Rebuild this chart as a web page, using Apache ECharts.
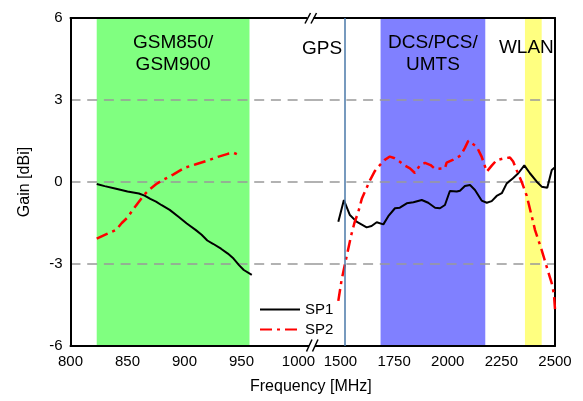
<!DOCTYPE html>
<html><head><meta charset="utf-8">
<script src="https://cdn.jsdelivr.net/npm/echarts@6/dist/echarts.min.js"></script>
<style>html,body{margin:0;padding:0;background:#fff}#c{width:583px;height:401px}</style>
</head><body><div id="c"></div>
<script>
// Tick labels
const lowTicks = [800, 850, 900, 950, 1000];
const highTicks = [1500, 1750, 2000, 2250, 2500];

// Frequency bands (MHz) and labels
const gsmBand = [823, 957];
const gsmLabel = 'GSM850/\nGSM900';
const dcsBand = [1687, 2175];
const dcsLabel = 'DCS/PCS/\nUMTS';
const wlanBand = [2360, 2438];
const wlanLabel = 'WLAN';
const gpsFreq = 1522;
const gpsLabel = 'GPS';

// SP1 low band
const sp1LowFreq = [823, 830, 840, 850, 860, 865, 870, 875, 880, 887, 895, 902, 910, 915, 920, 925, 932, 938, 943, 948, 952, 959];
const sp1LowGain = [-0.07, -0.15, -0.25, -0.35, -0.42, -0.5, -0.62, -0.72, -0.85, -1.02, -1.28, -1.52, -1.76, -1.93, -2.14, -2.26, -2.44, -2.62, -2.8, -3.05, -3.22, -3.4];

// SP2 low band
const sp2LowFreq = [823, 832, 840, 845, 850, 855, 860, 865, 870, 875, 880, 890, 900, 910, 920, 930, 938, 943, 948];
const sp2LowGain = [-2.07, -1.9, -1.75, -1.5, -1.3, -1.0, -0.72, -0.45, -0.25, -0.08, 0.05, 0.27, 0.52, 0.65, 0.78, 0.93, 1.03, 1.07, 0.98];

// SP1 high band
const sp1HighFreq = [1490, 1516, 1544, 1575, 1622, 1645, 1669, 1700, 1723, 1754, 1777, 1809, 1840, 1879, 1909, 1941, 1964, 1987, 2010, 2042, 2057, 2080, 2104, 2127, 2158, 2182, 2205, 2228, 2252, 2275, 2303, 2329, 2357, 2383, 2415, 2438, 2464, 2485, 2500];
const sp1HighGain = [-1.45, -0.66, -1.21, -1.45, -1.66, -1.61, -1.47, -1.55, -1.25, -0.96, -0.94, -0.78, -0.74, -0.66, -0.76, -0.94, -0.96, -0.84, -0.33, -0.35, -0.32, -0.15, -0.11, -0.29, -0.68, -0.76, -0.7, -0.51, -0.41, -0.05, 0.13, 0.32, 0.61, 0.32, 0.01, -0.17, -0.21, 0.44, 0.54];

// SP2 high band
const sp2HighFreq = [1490, 1505, 1521, 1535, 1550, 1565, 1583, 1600, 1620, 1638, 1660, 1684, 1705, 1730, 1750, 1777, 1800, 1824, 1847, 1871, 1894, 1920, 1941, 1987, 1995, 2026, 2060, 2080, 2096, 2135, 2158, 2182, 2205, 2228, 2260, 2290, 2305, 2321, 2345, 2368, 2390, 2407, 2438, 2461, 2485, 2495, 2500];
const sp2HighGain = [-4.35, -3.6, -3.0, -2.5, -1.95, -1.5, -1.1, -0.6, -0.25, 0.07, 0.4, 0.62, 0.8, 0.93, 0.88, 0.74, 0.6, 0.5, 0.33, 0.62, 0.7, 0.62, 0.48, 0.5, 0.71, 0.82, 0.97, 1.25, 1.51, 1.29, 0.93, 0.38, 0.6, 0.8, 0.86, 0.9, 0.75, 0.44, 0.0, -0.5, -1.2, -1.76, -2.49, -3.1, -3.71, -4.1, -4.65];

const zip = (xs, ys) => xs.map((x, i) => [x, ys[i]]);
const FONT = "'Liberation Sans', Arial, sans-serif";
const black = '#000';
const plain = v => String(v);
const frameLine = { show: true, onZero: false, lineStyle: { color: black, width: 2 } };
const gridDash = { show: true, showMinLine: false, showMaxLine: false, lineStyle: { color: '#999', width: 1.5, type: [10, 6.7] } };
const sp1Style = { color: black, width: 2 };
const sp2Style = { color: '#ff0000', width: 2.5, type: [12, 5, 3, 5] };
const bandLabel = { show: true, position: 'insideTop', distance: 14, fontSize: 19, lineHeight: 22, color: black, fontFamily: FONT };

const lowMax = 1012.7, highMin = 1372, highMax = 2500;

const chart = echarts.init(document.getElementById('c'), null, { renderer: 'canvas' });
chart.setOption({
  animation: false,
  backgroundColor: '#fff',
  textStyle: { fontFamily: FONT },
  grid: [
    { left: 70.5, top: 18, width: 242.5, height: 328 },
    { left: 313, top: 18, width: 242, height: 328 }
  ],
  xAxis: [
    { gridIndex: 0, type: 'value', min: 800, max: lowMax, position: 'bottom', axisLine: frameLine, axisTick: { show: false }, splitLine: { show: false },
      axisLabel: { customValues: lowTicks, formatter: plain, fontSize: 15, color: black, margin: 8, fontFamily: FONT }, z: 2 },
    { gridIndex: 0, type: 'value', min: 800, max: lowMax, position: 'top', axisLine: frameLine, axisTick: { show: false }, splitLine: { show: false }, axisLabel: { show: false }, z: 2 },
    { gridIndex: 1, type: 'value', min: highMin, max: highMax, position: 'bottom', axisLine: frameLine, axisTick: { show: false }, splitLine: { show: false },
      axisLabel: { customValues: highTicks, formatter: plain, fontSize: 15, color: black, margin: 8, fontFamily: FONT }, z: 2 },
    { gridIndex: 1, type: 'value', min: highMin, max: highMax, position: 'top', axisLine: frameLine, axisTick: { show: false }, splitLine: { show: false }, axisLabel: { show: false }, z: 2 }
  ],
  yAxis: [
    { gridIndex: 0, type: 'value', min: -6, max: 6, interval: 3, position: 'left', axisLine: frameLine, axisTick: { show: false }, splitLine: gridDash,
      axisLabel: { fontSize: 15, color: black, margin: 8, fontFamily: FONT },
      name: 'Gain [dBi]', nameLocation: 'middle', nameGap: 38, nameTextStyle: { fontSize: 16, color: black, fontFamily: FONT }, z: 2 },
    { gridIndex: 1, type: 'value', min: -6, max: 6, interval: 3, position: 'right', axisLine: frameLine, axisTick: { show: false }, splitLine: gridDash,
      axisLabel: { show: false }, z: 2 }
  ],
  legend: {
    data: ['SP1', 'SP2'], orient: 'vertical', left: 254, top: 297, itemWidth: 40, itemHeight: 14, itemGap: 5,
    itemStyle: { opacity: 0 },
    textStyle: { fontSize: 15, color: black, fontFamily: FONT }, selectedMode: false
  },
  series: [
    { type: 'line', xAxisIndex: 0, yAxisIndex: 0, data: [], z: 1, silent: true,
      markArea: { silent: true, itemStyle: { color: '#80ff80' }, label: bandLabel,
        data: [[{ xAxis: gsmBand[0], name: gsmLabel }, { xAxis: gsmBand[1] }]] } },
    { type: 'line', xAxisIndex: 2, yAxisIndex: 1, data: [], z: 1, silent: true,
      markArea: { silent: true, label: bandLabel,
        data: [
          [{ xAxis: dcsBand[0], name: dcsLabel, itemStyle: { color: '#8080ff' } }, { xAxis: dcsBand[1] }],
          [{ xAxis: wlanBand[0], name: wlanLabel, itemStyle: { color: '#ffff80' }, label: { distance: 19, offset: [-7, 0] } }, { xAxis: wlanBand[1] }]
        ] } },
    { type: 'line', xAxisIndex: 2, yAxisIndex: 1, data: [], z: 3, silent: true,
      markLine: { silent: true, symbol: 'none', label: { show: false }, lineStyle: { color: '#4a78a8', width: 1.5, type: 'solid' },
        data: [{ xAxis: gpsFreq }] } },
    { name: 'SP1', type: 'line', xAxisIndex: 0, yAxisIndex: 0, data: zip(sp1LowFreq, sp1LowGain), symbol: 'none', lineStyle: sp1Style, itemStyle: { color: black }, z: 4 },
    { name: 'SP2', type: 'line', xAxisIndex: 0, yAxisIndex: 0, data: zip(sp2LowFreq, sp2LowGain), symbol: 'none', lineStyle: sp2Style, itemStyle: { color: '#ff0000' }, z: 4 },
    { name: 'SP1', type: 'line', xAxisIndex: 2, yAxisIndex: 1, data: zip(sp1HighFreq, sp1HighGain), symbol: 'none', lineStyle: sp1Style, itemStyle: { color: black }, z: 4 },
    { name: 'SP2', type: 'line', xAxisIndex: 2, yAxisIndex: 1, data: zip(sp2HighFreq, sp2HighGain), symbol: 'none', lineStyle: sp2Style, itemStyle: { color: '#ff0000' }, z: 4 }
  ],
  graphic: [
    { type: 'text', left: 302, top: 39, style: { text: gpsLabel, fontSize: 19, fill: black, fontFamily: FONT } },
    { type: 'text', left: 250, top: 379, style: { text: 'Frequency [MHz]', fontSize: 16, fill: black, fontFamily: FONT } },
    // axis break marks (top)
    { type: 'rect', shape: { x: 307.5, y: 15, width: 6, height: 6 }, style: { fill: '#fff' }, z: 100 },
    { type: 'line', shape: { x1: 305, y1: 23.5, x2: 310.5, y2: 13 }, style: { stroke: black, lineWidth: 1.5 }, z: 101 },
    { type: 'line', shape: { x1: 311, y1: 23.5, x2: 316.5, y2: 13 }, style: { stroke: black, lineWidth: 1.5 }, z: 101 },
    // axis break marks (bottom)
    { type: 'rect', shape: { x: 309, y: 343, width: 6, height: 6 }, style: { fill: '#fff' }, z: 100 },
    { type: 'line', shape: { x1: 306.5, y1: 351.5, x2: 312, y2: 339.5 }, style: { stroke: black, lineWidth: 1.5 }, z: 101 },
    { type: 'line', shape: { x1: 312.5, y1: 351.5, x2: 318, y2: 339.5 }, style: { stroke: black, lineWidth: 1.5 }, z: 101 }
  ]
});
</script>
</body></html>
